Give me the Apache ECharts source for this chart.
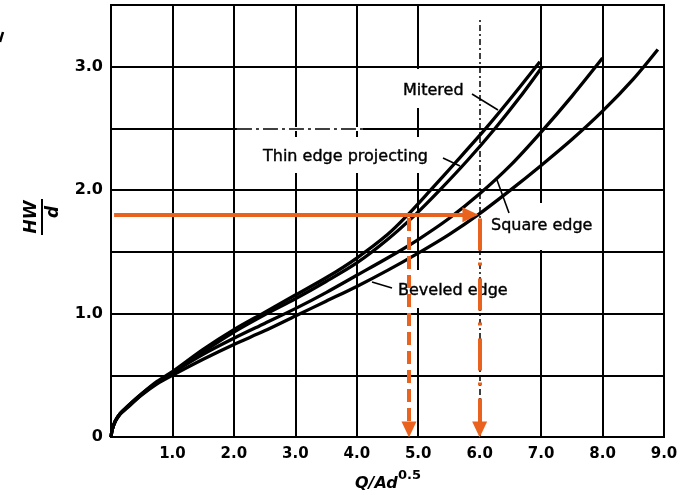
<!DOCTYPE html>
<html>
<head>
<meta charset="utf-8">
<script src="https://cdn.jsdelivr.net/npm/echarts@6/dist/echarts.min.js"></script>
<style>
html,body{margin:0;padding:0;background:#fff;}
#c{width:681px;height:495px;}
</style>
</head>
<body>
<div id="c"></div>
<script>
// ---- data ----
const xTickValues = [1, 2, 3, 4, 5, 6, 7, 8, 9];
const xTickText   = ['1.0','2.0','3.0','4.0','5.0','6.0','7.0','8.0','9.0'];
const yTickValues = [0, 1, 2, 3];
const yTickText   = ['0','1.0','2.0','3.0'];

const thinEdgeProjecting = [[0,0],[0.02,0.06],[0.07,0.13],[0.15,0.19],[0.25,0.24],[0.5,0.35],[0.75,0.45],[1.0,0.53],[1.5,0.71],[2.0,0.87],[2.5,1.01],[3.0,1.15],[3.5,1.29],[4.0,1.45],[4.5,1.64],[4.83,1.8],[5.2,2.0],[5.6,2.22],[6.1,2.5],[6.5,2.74],[6.98,3.04]];
const mitered = [[0,0],[0.02,0.06],[0.07,0.13],[0.15,0.19],[0.25,0.24],[0.5,0.35],[0.75,0.44],[1.0,0.52],[1.5,0.69],[2.0,0.85],[2.5,0.99],[3.0,1.12],[3.5,1.26],[4.0,1.41],[4.5,1.6],[4.95,1.8],[5.35,2.0],[5.8,2.24],[6.25,2.5],[6.65,2.75],[7.02,3.0]];
const squareEdge = [[0,0],[0.02,0.06],[0.07,0.13],[0.15,0.19],[0.25,0.235],[0.5,0.345],[0.75,0.44],[1.0,0.52],[1.5,0.67],[2.0,0.8],[2.5,0.92],[3.0,1.04],[3.5,1.17],[4.0,1.31],[4.5,1.45],[5.0,1.6],[5.5,1.77],[6.0,1.97],[6.5,2.2],[7.0,2.47],[7.5,2.76],[8.0,3.07]];
const beveledEdge = [[0,0],[0.02,0.06],[0.07,0.125],[0.15,0.185],[0.25,0.23],[0.5,0.34],[0.75,0.43],[1.0,0.5],[1.5,0.63],[2.0,0.75],[2.5,0.86],[3.0,0.98],[3.5,1.1],[4.0,1.22],[4.5,1.35],[5.0,1.49],[5.5,1.64],[6.0,1.81],[6.5,2.0],[7.0,2.2],[7.5,2.41],[8.0,2.64],[8.5,2.9],[8.9,3.14]];

// worked example read-off
const exampleHW = 1.8;
const exampleQThin = 4.85;
const exampleQBevel = 6.0;

// ---- chart ----
const FONT = '"DejaVu Sans", sans-serif';
const ORANGE = '#e9631f';
const chart = echarts.init(document.getElementById('c'), null, {renderer: 'canvas'});

function curve(name, data) {
  return {
    name, type: 'line', data, smooth: 0.3,
    symbol: 'none', showSymbol: false, silent: true, animation: false,
    lineStyle: {color: '#000', width: 3.3}, z: 3
  };
}

const xSplitColors = [0,1,2,3,4,5,6,7,8,9].map(i => i === 6 ? 'rgba(0,0,0,0)' : '#000');

const annotations = {
  name: 'annotations', type: 'line', data: [], silent: true, animation: false, z: 4,
  markLine: {
    silent: true, animation: false, symbol: ['none', 'none'],
    label: {show: false}, emphasis: {disabled: true},
    data: [
      [{coord: [2.05, 2.5], lineStyle: {color: '#fff', width: 4, type: 'solid'}}, {coord: [4.1, 2.5]}],
      [{coord: [2.05, 2.5], lineStyle: {color: '#000', width: 1.5, type: [15, 4, 3, 4]}}, {coord: [4.1, 2.5]}],
      [{coord: [exampleQBevel, 0], lineStyle: {color: '#000', width: 1.5, type: [6, 3, 2, 3]}}, {coord: [exampleQBevel, 3.4]}],
      [{coord: [0.05, exampleHW], lineStyle: {color: ORANGE, width: 4, type: 'solid'}},
       {coord: [5.85, exampleHW], symbol: 'triangle', symbolSize: [15, 16]}],
      [{coord: [exampleQThin, 1.775], lineStyle: {color: ORANGE, width: 4, type: [13, 6]}},
       {coord: [exampleQThin, 0.06], symbol: 'triangle', symbolSize: [15, 16]}],
      [{coord: [exampleQBevel, 1.77], lineStyle: {color: ORANGE, width: 4, type: [32, 12, 3, 13]}},
       {coord: [exampleQBevel, 0.06], symbol: 'triangle', symbolSize: [15, 16]}]
    ]
  }
};

const labelFont = '16px "DejaVu Sans", sans-serif';
function knock(x, y, w, h) { return {type: 'rect', z: 1, silent: true, shape: {x, y, width: w, height: h}, style: {fill: '#fff'}}; }
function label(text, x, y) { return {type: 'text', z: 1, silent: true, x, y, style: {text, font: labelFont, fill: '#000', stroke: '#000', lineWidth: 0.4, textVerticalAlign: 'middle', textAlign: 'left'}}; }
function leader(x1, y1, x2, y2) { return {type: 'line', z: 1, silent: true, shape: {x1, y1, x2, y2}, style: {stroke: '#000', lineWidth: 1.6}}; }

chart.setOption({
  animation: false,
  backgroundColor: '#fff',
  grid: {left: 111, top: 5, right: 17, bottom: 58, show: true, borderColor: '#000', borderWidth: 2, backgroundColor: 'rgba(0,0,0,0)'},
  xAxis: {
    type: 'value', min: 0, max: 9, interval: 1,
    axisLine: {show: true, onZero: false, lineStyle: {color: '#000', width: 2}},
    axisTick: {show: false},
    axisLabel: {
      formatter: v => { const i = xTickValues.indexOf(v); return i >= 0 ? xTickText[i] : ''; },
      color: '#000', fontFamily: FONT, fontWeight: 'bold', fontSize: 15, margin: 10
    },
    splitLine: {show: true, lineStyle: {color: xSplitColors, width: 2}}
  },
  yAxis: {
    type: 'value', min: 0, max: 3.5, interval: 0.5,
    axisLine: {show: true, onZero: false, lineStyle: {color: '#000', width: 2}},
    axisTick: {show: false},
    axisLabel: {
      formatter: v => { const i = yTickValues.indexOf(v); return i >= 0 ? yTickText[i] : ''; },
      color: '#000', fontFamily: FONT, fontWeight: 'bold', fontSize: 16, margin: 8
    },
    splitLine: {show: true, lineStyle: {color: '#000', width: 2}}
  },
  graphic: [
    knock(398, 69, 72, 39),
    knock(258, 137, 182, 36),
    knock(488, 203, 114, 47),
    knock(393, 270, 125, 38),
    label('Mitered', 403, 91),
    label('Thin edge projecting', 263, 157),
    label('Square edge', 491, 226),
    label('Beveled edge', 398, 291),
    leader(472, 94, 498, 110),
    leader(443, 158, 460, 166),
    leader(497, 180, 509, 213),
    leader(372, 282, 392, 288),
    {type: 'line', silent: true, shape: {x1: 0, y1: 42, x2: 3, y2: 32}, style: {stroke: '#000', lineWidth: 2.5}},
    {
      type: 'group', x: 42, y: 217, rotation: Math.PI / 2, silent: true,
      children: [
        {type: 'text', x: 0, y: -2, style: {text: 'HW', font: 'italic bold 17px "DejaVu Sans", sans-serif', fill: '#000', textAlign: 'center', textVerticalAlign: 'bottom'}},
        {type: 'line', shape: {x1: -18, y1: 0, x2: 18, y2: 0}, style: {stroke: '#000', lineWidth: 2}},
        {type: 'text', x: 5, y: 3, style: {text: 'd', font: 'italic bold 17px "DejaVu Sans", sans-serif', fill: '#000', textAlign: 'center', textVerticalAlign: 'top'}}
      ]
    },
    {type: 'text', silent: true, x: 355, y: 484, style: {text: 'Q/Ad', font: 'italic bold 16px "DejaVu Sans", sans-serif', fill: '#000', textAlign: 'left', textVerticalAlign: 'middle'}},
    {type: 'text', silent: true, x: 398, y: 476, style: {text: '0.5', font: 'bold 13px "DejaVu Sans", sans-serif', fill: '#000', textAlign: 'left', textVerticalAlign: 'middle'}}
  ],
  series: [
    curve('Thin edge projecting', thinEdgeProjecting),
    curve('Mitered', mitered),
    curve('Square edge', squareEdge),
    curve('Beveled edge', beveledEdge),
    annotations
  ]
});
</script>
</body>
</html>
